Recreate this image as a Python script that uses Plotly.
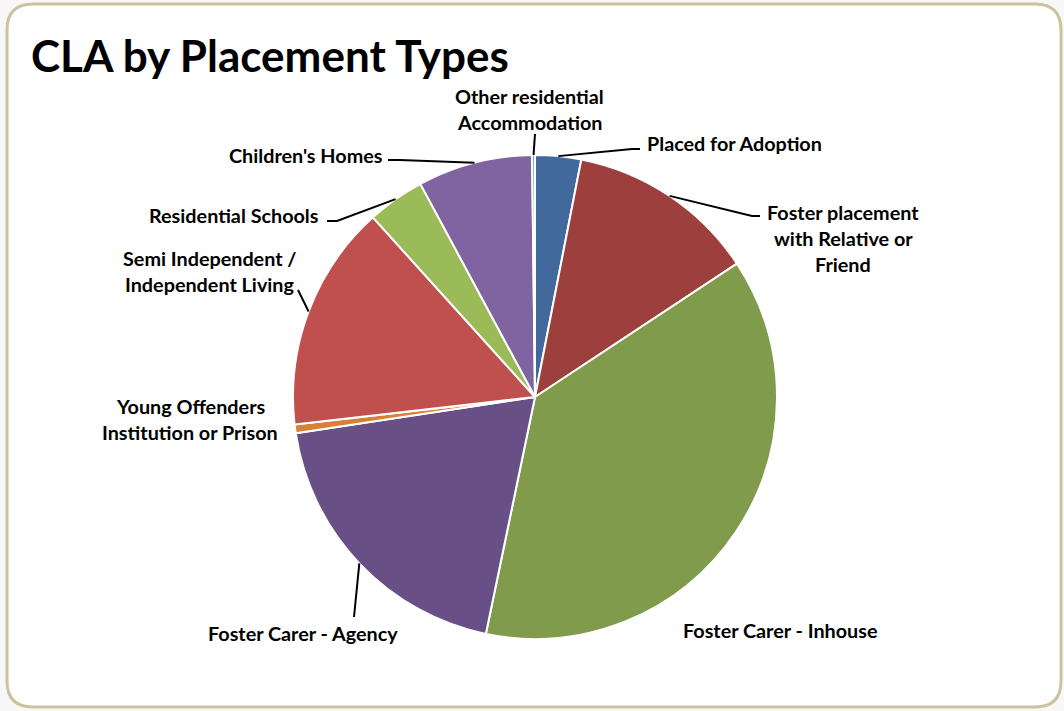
import math
import plotly.graph_objects as go

W, H = 1064, 711

# ---- data ----
categories = [
    "Placed for Adoption",
    "Foster placement with Relative or Friend",
    "Foster Carer - Inhouse",
    "Foster Carer - Agency",
    "Young Offenders Institution or Prison",
    "Semi Independent / Independent Living",
    "Residential Schools",
    "Children's Homes",
    "Other residential Accommodation",
]
values = [16, 66, 196, 101, 3, 79, 20, 40, 1]
label_text = [
    ["Placed for Adoption"],
    ["Foster placement", "with Relative or", "Friend"],
    ["Foster Carer - Inhouse"],
    ["Foster Carer - Agency"],
    ["Young Offenders", "Institution or Prison"],
    ["Semi Independent /", "Independent Living"],
    ["Residential Schools"],
    ["Children's Homes"],
    ["Other residential", "Accommodation"],
]
colors = ["#41699B", "#9C3F3D", "#7F9B4B", "#684F86", "#D6813A",
          "#C0504D", "#9BBB59", "#8064A2", "#4BACC6"]

# ---- layout / positions (pixels) ----
CX, CY, R = 535, 397, 242
# label anchor: (x, y of first line, xanchor)
label_pos = [
    (645, 143, "left"),
    (843, 212, "center"),
    (780, 630, "center"),
    (303, 633, "center"),
    (190, 406, "center"),
    (210, 258, "center"),
    (321, 215, "right"),
    (385, 155, "right"),
    (529, 96, "center"),
]
LINE_GAP = 26
# leader line: list of points after the slice edge point (None = no line)
leader = [
    [(632, 149), (640, 149)],
    [(752, 216), (760, 216)],
    None,
    [(354, 617)],
    None,
    [(298, 290)],
    [(337, 221), (327, 221)],
    [(400, 160), (388, 160)],
    [(535, 134)],
]
edge_r = [R] * len(values)


def px(x):
    return x / W


def py(y):
    return 1 - y / H


fig = go.Figure()
fig.add_trace(go.Pie(
    labels=categories,
    values=values,
    sort=False,
    direction="clockwise",
    rotation=0,
    marker=dict(colors=colors, line=dict(color="white", width=2)),
    textinfo="none",
    hoverinfo="label+value+percent",
    showlegend=False,
    domain=dict(x=[px(CX - R), px(CX + R)], y=[py(CY + R), py(CY - R)]),
))

total = sum(values)
cum = 0.0
shapes = []
annotations = []
for i, v in enumerate(values):
    mid = (cum + v / 2) / total * 2 * math.pi
    cum += v
    ex = CX + edge_r[i] * math.sin(mid)
    ey = CY - edge_r[i] * math.cos(mid)
    if leader[i]:
        pts = [(ex, ey)] + leader[i]
        path = "M " + " L ".join(f"{px(a):.5f},{py(b):.5f}" for a, b in pts)
        shapes.append(dict(type="path", xref="paper", yref="paper", path=path,
                           line=dict(color="black", width=2)))
    lx, ly, anc = label_pos[i]
    for j, t in enumerate(label_text[i]):
        annotations.append(dict(
            x=px(lx), y=py(ly + j * LINE_GAP), xref="paper", yref="paper",
            text=f"<b>{t}</b>", showarrow=False, xanchor=anc, yanchor="middle",
            font=dict(family="Lato", size=19.8, color="black"),
        ))

# title
annotations.append(dict(
    x=px(29), y=py(55), xref="paper", yref="paper",
    text="<b>CLA by Placement Types</b>", showarrow=False,
    xanchor="left", yanchor="middle",
    font=dict(family="Lato", size=44, color="black"),
))

# rounded frame
x0, y0, x1, y1, rr = 7, 4, 1061, 707, 26
fr = (f"M {px(x0 + rr)},{py(y0)} L {px(x1 - rr)},{py(y0)} "
      f"Q {px(x1)},{py(y0)} {px(x1)},{py(y0 + rr)} L {px(x1)},{py(y1 - rr)} "
      f"Q {px(x1)},{py(y1)} {px(x1 - rr)},{py(y1)} L {px(x0 + rr)},{py(y1)} "
      f"Q {px(x0)},{py(y1)} {px(x0)},{py(y1 - rr)} L {px(x0)},{py(y0 + rr)} "
      f"Q {px(x0)},{py(y0)} {px(x0 + rr)},{py(y0)} Z")
shapes.insert(0, dict(type="path", xref="paper", yref="paper", path=fr,
                      line=dict(color="#CBC39E", width=3), fillcolor="white",
                      layer="below"))

fig.update_layout(
    width=W, height=H,
    margin=dict(l=0, r=0, t=0, b=0),
    paper_bgcolor="#F7F7F7",
    plot_bgcolor="white",
    shapes=shapes,
    annotations=annotations,
)
fig.write_html("out.html")
